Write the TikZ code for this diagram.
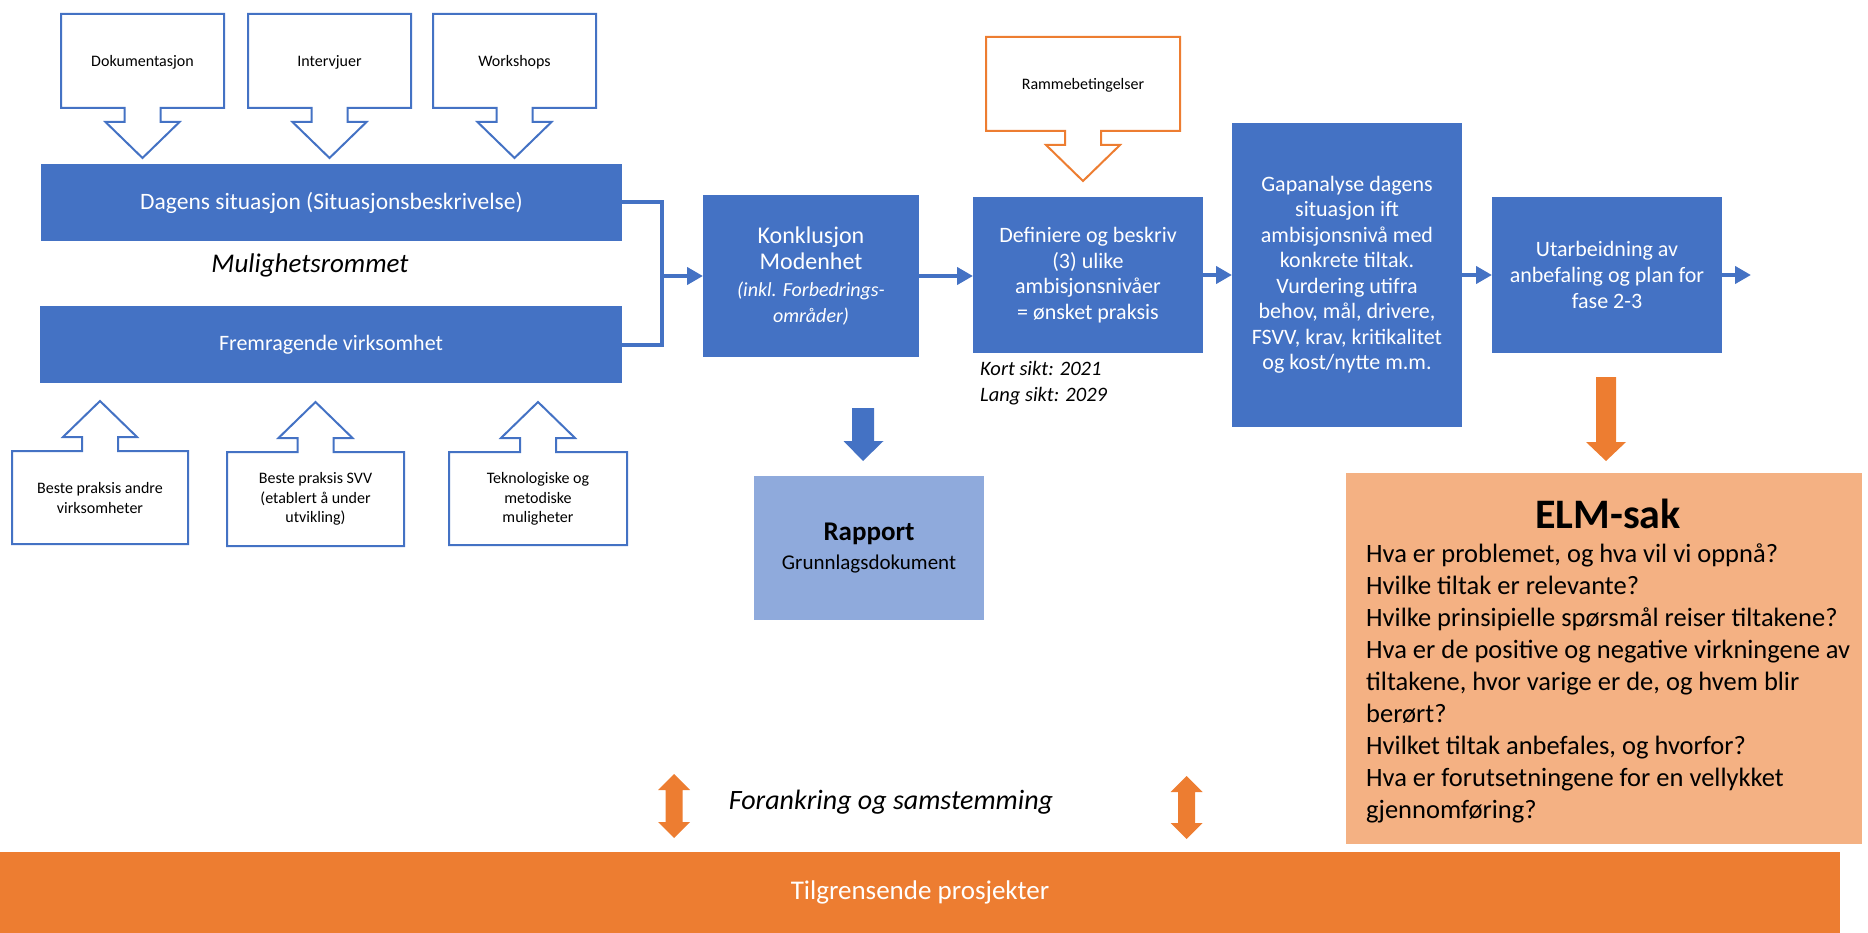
\documentclass[tikz,border=0pt]{standalone}
\usepackage{fontspec}
\setmainfont{Carlito}
\usetikzlibrary{arrows.meta}
\definecolor{blueC}{HTML}{4472C4}
\definecolor{lblue}{HTML}{8FAADC}
\definecolor{orangeC}{HTML}{ED7D31}
\definecolor{lorange}{HTML}{F4B183}
\newcommand{\fsz}[2]{\fontsize{#1}{#2}\selectfont}
% cx, half width, top, bottom, colour
\newcommand{\calloutdown}[5]{%
  \draw[draw=#5, line width=2pt, fill=white, line join=miter]
  ({#1-#2},#3) -- ({#1+#2},#3) -- ({#1+#2},#4) -- ({#1+18},#4) -- ({#1+18},{#4+14})
  -- ({#1+37},{#4+14}) -- (#1,{#4+50}) -- ({#1-37},{#4+14}) -- ({#1-18},{#4+14})
  -- ({#1-18},#4) -- ({#1-#2},#4) -- cycle;}
\newcommand{\calloutup}[5]{%
  \draw[draw=#5, line width=2pt, fill=white, line join=miter]
  ({#1-#2},#4) -- ({#1-#2},#3) -- ({#1-18},#3) -- ({#1-18},{#3-14}) -- ({#1-37},{#3-14})
  -- (#1,{#3-50}) -- ({#1+37},{#3-14}) -- ({#1+18},{#3-14}) -- ({#1+18},#3)
  -- ({#1+#2},#3) -- ({#1+#2},#4) -- cycle;}
\tikzset{
  box/.style={inner sep=0pt, outer sep=0pt, align=center},
  bluebox/.style={box, fill=blueC, text=white},
  ctext/.style={align=center, inner sep=0pt, text=black, font=\fsz{16}{19.5}},
  conn/.style={draw=blueC, line width=4pt, line join=miter},
  flow/.style={conn, -{Triangle[length=16pt,width=17pt]}},
}
\begin{document}
\begin{tikzpicture}[x=1pt,y=-1pt]
\useasboundingbox (0,0) rectangle (1868,933);

% top callouts
\calloutdown{142.5}{81.5}{14}{108}{blueC}
\calloutdown{329.5}{81.5}{14}{108}{blueC}
\calloutdown{514.5}{81.5}{14}{108}{blueC}
\node[ctext] (dok) at (142.5,62) {Dokumentasjon};
\node[ctext] (int) at (329.5,62) {Intervjuer};
\node[ctext] (wsh) at (514.5,62) {Workshops};

% Rammebetingelser callout
\calloutdown{1083}{97}{37}{131}{orangeC}
\node[ctext] (ramme) at (1083,85) {Rammebetingelser};

% bottom callouts
\calloutup{100}{88}{451}{544}{blueC}
\calloutup{315.5}{88.5}{452}{546}{blueC}
\calloutup{538}{89}{452}{545}{blueC}
\node[ctext] (beste) at (100,498) {Beste praksis andre\\virksomheter};
\node[ctext] (svv) at (315.5,499) {Beste praksis SVV\\(etablert å under\\utvikling)};
\node[ctext] (tekno) at (538,499) {Teknologiske og\\metodiske\\muligheter};

% main blue boxes
\node[bluebox, minimum width=581pt, minimum height=77pt, font=\fsz{23.5}{26}] (dagens) at (331.5,202.5) {Dagens situasjon (Situasjonsbeskrivelse)};
\node[bluebox, minimum width=582pt, minimum height=77pt, font=\fsz{22}{26}] (fremr) at (331,344.5) {Fremragende virksomhet};
\node[inner sep=0pt, font=\itshape\fsz{27}{30}] (mulig) at (310,265) {Mulighetsrommet};

\node[bluebox, minimum width=216pt, minimum height=162pt, font=\fsz{24}{26.5}] (konk) at (811,276)
  {Konklusjon\\Modenhet\\{\itshape\fsz{20}{25}(inkl. Forbedrings-}\\{\itshape\fsz{20}{25}områder)}};
\node[bluebox, minimum width=230pt, minimum height=156pt, font=\fsz{22}{25.7}] (def) at (1088,275)
  {Definiere og beskriv\\(3) ulike\\ambisjonsnivåer\\= ønsket praksis};
\node[bluebox, minimum width=230pt, minimum height=304pt, font=\fsz{22}{25.5}] (gap) at (1347,275)
  {Gapanalyse dagens\\situasjon ift\\ambisjonsnivå med\\konkrete tiltak.\\Vurdering utifra\\behov, mål, drivere,\\FSVV, krav, kritikalitet\\og kost/nytte m.m.};
\node[bluebox, minimum width=230pt, minimum height=156pt, font=\fsz{22}{25.7}] (utarb) at (1607,275)
  {Utarbeidning av\\anbefaling og plan for\\fase 2-3};

\node[anchor=west, align=left, inner sep=0pt, font=\itshape\fsz{20.5}{26}] (sikt) at (980,383)
  {Kort sikt: 2021\\Lang sikt: 2029};

% connectors
\coordinate (jx) at (662,276);
\coordinate (outend) at (1751,275);
\draw[conn] (dagens.east) -| (jx) |- (fremr.east);
\draw[flow] (jx) -- (konk.west);
\draw[flow] (konk.east) -- (konk.east -| def.west);
\draw[flow] (def.east) -- (gap.west |- def.east);
\draw[flow] (gap.east |- utarb.west) -- (utarb.west);
\draw[flow] (utarb.east) -- (outend);

% Rapport
\fill[blueC] (852,408) -- (874,408) -- (874,441) -- (883.5,441) -- (863,461) -- (843.5,441) -- (852,441) -- cycle;
\node[box, fill=lblue, text=black, minimum width=230pt, minimum height=144pt, font=\fsz{21}{29}] (rapport) at (869,548)
  {{\bfseries\fsz{27}{29}Rapport}\\{\fsz{21}{29}Grunnlagsdokument}};

% ELM-sak
\fill[orangeC] (1596,377) -- (1616,377) -- (1616,442) -- (1626,442) -- (1606,461) -- (1586,442) -- (1596,442) -- cycle;
\node[box, fill=lorange, minimum width=516pt, minimum height=371pt] (elm) at (1604,658.5) {};
\node[inner sep=0pt, font=\bfseries\fsz{42}{46}] (elmtitle) at (1608,514) {ELM-sak};
\node[anchor=north west, align=left, inner sep=0pt, font=\fsz{26.5}{32}] (elmbody) at (1366,544)
  {Hva er problemet, og hva vil vi oppnå?\\
   Hvilke tiltak er relevante?\\
   Hvilke prinsipielle spørsmål reiser tiltakene?\\
   Hva er de positive og negative virkningene av\\
   tiltakene, hvor varige er de, og hvem blir\\
   berørt?\\
   Hvilket tiltak anbefales, og hvorfor?\\
   Hva er forutsetningene for en vellykket\\
   gjennomføring?};

% Forankring
\fill[orangeC] (674,774) -- (690,790) -- (682.5,790) -- (682.5,822) -- (690,822) -- (674,838) -- (658,822) -- (665.5,822) -- (665.5,790) -- (658,790) -- cycle;
\fill[orangeC] (1186.5,776) -- (1202.5,792) -- (1195,792) -- (1195,823) -- (1202.5,823) -- (1186.5,839) -- (1170.5,823) -- (1178,823) -- (1178,792) -- (1170.5,792) -- cycle;
\node[inner sep=0pt, font=\itshape\fsz{28}{30}] (foran) at (891,802) {Forankring og samstemming};

% bottom bar
\node[box, fill=orangeC, text=white, minimum width=1840pt, minimum height=81pt, font=\fsz{27}{30}] (tilgr) at (920,892.5) {Tilgrensende prosjekter};
\end{tikzpicture}
\end{document}
